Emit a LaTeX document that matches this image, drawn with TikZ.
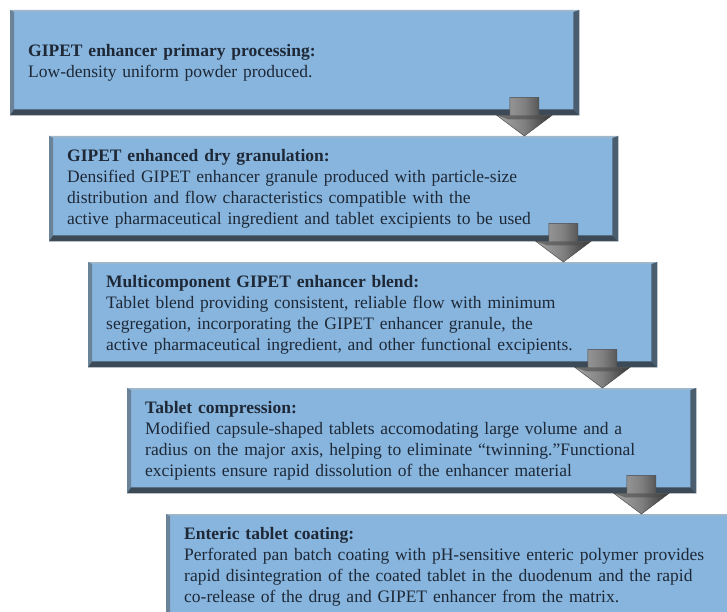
\documentclass[tikz,border=0pt]{standalone}
\usepackage{fontspec}
\setmainfont{Liberation Serif}
\usetikzlibrary{calc}

\definecolor{boxblue}{HTML}{87B5DE}
\definecolor{inktext}{HTML}{1E2836}
\definecolor{beveltop}{HTML}{9CB6CC}
\definecolor{bevelleft}{HTML}{6A8399}
\definecolor{bevelright}{HTML}{4B5E70}
\definecolor{bevelbottom}{HTML}{3C4A58}

\tikzset{
  stagebox/.style={rectangle, fill=boxblue, anchor=north west,
    minimum width=569pt, minimum height=105pt, text width=533pt,
    inner xsep=18pt, inner ysep=0pt, align=left, text=inktext,
    font=\fontsize{17.5}{21}\selectfont},
  downflow/.style={draw=black!70, line width=0.5pt,
    left color=black!35, right color=black!80, middle color=black!50},
  flowwing/.style={fill=black!70, opacity=0.6},
}

% raised edge round a stage box
\newcommand{\bevel}[1]{%
  \fill[beveltop] (#1.north west) -- (#1.north east) -- ($(#1.north east)+(-6,2)$) -- ($(#1.north west)+(4,2)$) -- cycle;
  \fill[bevelleft] (#1.north west) -- (#1.south west) -- ($(#1.south west)+(4,-6)$) -- ($(#1.north west)+(4,2)$) -- cycle;
  \fill[bevelright] (#1.north east) -- (#1.south east) -- ($(#1.south east)+(-6,-6)$) -- ($(#1.north east)+(-6,2)$) -- cycle;
  \fill[bevelbottom] (#1.south west) -- (#1.south east) -- ($(#1.south east)+(-6,-6)$) -- ($(#1.south west)+(4,-6)$) -- cycle;
}

% block arrow from one stage to the next
\newcommand{\flowarrow}[2]{%
  \coordinate (p) at ($(#1.south east)+(-55,0)$);
  \coordinate (tip) at (p |- #2.north);
  \path[downflow] ($(p)+(-14.5,-18)$) -- ($(p)+(14.5,-18)$) -- ($(p)+(14.5,0)$)
    -- ($(p)+(27.5,0)$) -- (tip) -- ($(p)+(-27.5,0)$) -- ($(p)+(-14.5,0)$) -- cycle;
  \fill[flowwing] ($(p)+(-27.5,0)$) -- ($(p)+(27.5,0)$) -- ($(p)+(16,4)$) -- ($(p)+(-16,4)$) -- cycle;
}

\begin{document}
\begin{tikzpicture}[x=1pt, y=-1pt]
  \path[use as bounding box, clip] (0,0) rectangle (727,612);

  \node[stagebox] (primary) at (10,10) {\textbf{GIPET enhancer primary processing:}\\
    Low-density uniform powder produced.};
  \node[stagebox] (drygran) at (49,136) {\textbf{GIPET enhanced dry granulation:}\\
    Densified GIPET enhancer granule produced with particle-size\\
    distribution and flow characteristics compatible with the\\
    active pharmaceutical ingredient and tablet excipients to be used};
  \node[stagebox] (blend) at (88,262) {\textbf{Multicomponent GIPET enhancer blend:}\\
    Tablet blend providing consistent, reliable flow with minimum\\
    segregation, incorporating the GIPET enhancer granule, the\\
    active pharmaceutical ingredient, and other functional excipients.};
  \node[stagebox] (compress) at (127,388) {\textbf{Tablet compression:}\\
    Modified capsule-shaped tablets accomodating large volume and a\\
    radius on the major axis, helping to eliminate “twinning.”Functional\\
    excipients ensure rapid dissolution of the enhancer material};
  \node[stagebox] (coating) at (166,514) {\textbf{Enteric tablet coating:}\\
    Perforated pan batch coating with pH-sensitive enteric polymer provides\\
    rapid disintegration of the coated tablet in the duodenum and the rapid\\
    co-release of the drug and GIPET enhancer from the matrix.};

  \foreach \stage in {primary, drygran, blend, compress, coating}
    {\bevel{\stage}}

  \flowarrow{primary}{drygran}
  \flowarrow{drygran}{blend}
  \flowarrow{blend}{compress}
  \flowarrow{compress}{coating}
\end{tikzpicture}
\end{document}
